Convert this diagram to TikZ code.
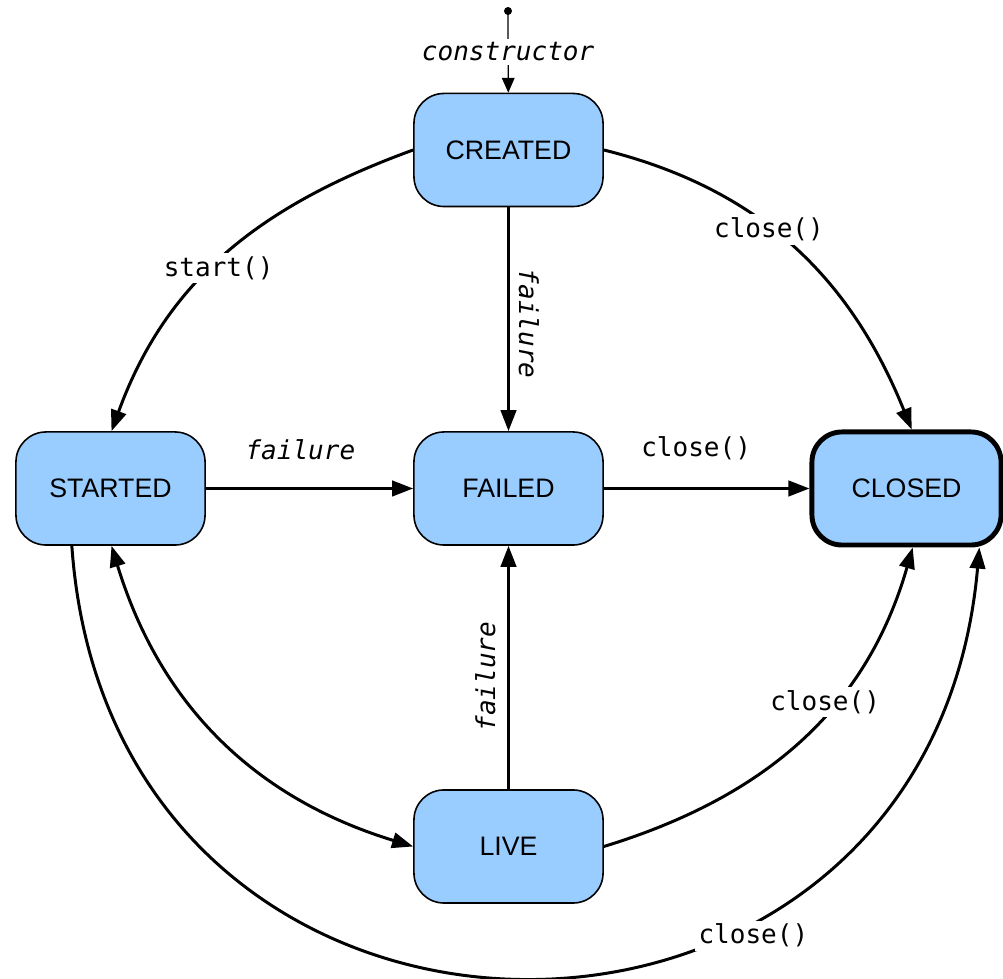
\documentclass[tikz,border=0pt]{standalone}
\usepackage{fontspec}
\setmainfont{Liberation Sans}
\setmonofont{DejaVu Sans Mono}
\usetikzlibrary{arrows.meta}
\definecolor{statefill}{HTML}{99CCFF}
\tikzset{
  state/.style={draw=black, fill=statefill, line width=0.45pt, rounded corners=0.3cm,
    minimum width=1.89cm, minimum height=1.13cm, font=\fontsize{7.6}{9}\selectfont},
  final/.style={state, line width=1.4pt},
  trans/.style={line width=0.85pt, -{Triangle[length=6pt,width=4.4pt]}},
  lbl/.style={font=\ttfamily\fontsize{7.4}{9}\selectfont, inner sep=1pt},
  ilbl/.style={lbl, font=\ttfamily\itshape\fontsize{7.4}{9}\selectfont}
}
\begin{document}
\begin{tikzpicture}[x=0.01cm, y=0.01cm]
\useasboundingbox (0,0) rectangle (1003,979);
% states
\node[state] (created) at (508.5,829) {CREATED};
\node[state] (started) at (110.5,490.5) {STARTED};
\node[state] (failed) at (508.5,490.5) {FAILED};
\node[final] (closed) at (906.5,490.5) {CLOSED};
\node[state] (live) at (508.5,132.5) {LIVE};
% initial point
\fill (508,968) circle (4) coordinate (init);
\draw[line width=0.35pt, -{Triangle[length=4.2pt,width=3.6pt]}] (init) -- node[ilbl, fill=white] {constructor} (created);
% straight transitions
\draw[trans] (created) -- node[ilbl, pos=0.52, right=1.5pt, rotate=-90, anchor=south] {failure} (failed);
\draw[trans] (started) -- node[ilbl, above=6.7pt, xshift=-2.6pt] {failure} (failed);
\draw[trans] (failed) -- node[lbl, above=6.7pt, xshift=-3pt] {close()} (closed);
\draw[trans] (live) -- node[ilbl, pos=0.463, rotate=90, anchor=south, yshift=2.3pt] {failure} (failed);
% curved transitions
\draw[trans] (created.west) to[out=200, in=70] node[lbl, fill=white, pos=0.55, xshift=2pt] {start()} (started.89);
\draw[trans] (created.east) to[out=-14, in=112] node[lbl, fill=white, pos=0.43, xshift=-1pt] {close()} (closed.85);
\draw[line width=0.85pt, {Triangle[length=6pt,width=4.4pt]}-{Triangle[length=6pt,width=4.4pt]}] (started.-89) to[out=-73, in=163] (live.west);
\draw[trans] (live.east) to[out=17, in=-106] node[lbl, fill=white, pos=0.62, xshift=-3pt] {close()} (closed.-84);
\draw[trans] (started.236) to[out=-86, in=-95, looseness=1.62] node[lbl, fill=white, pos=0.665, xshift=7pt, yshift=-1.5pt] {close()} (closed.-39);
\end{tikzpicture}
\end{document}
